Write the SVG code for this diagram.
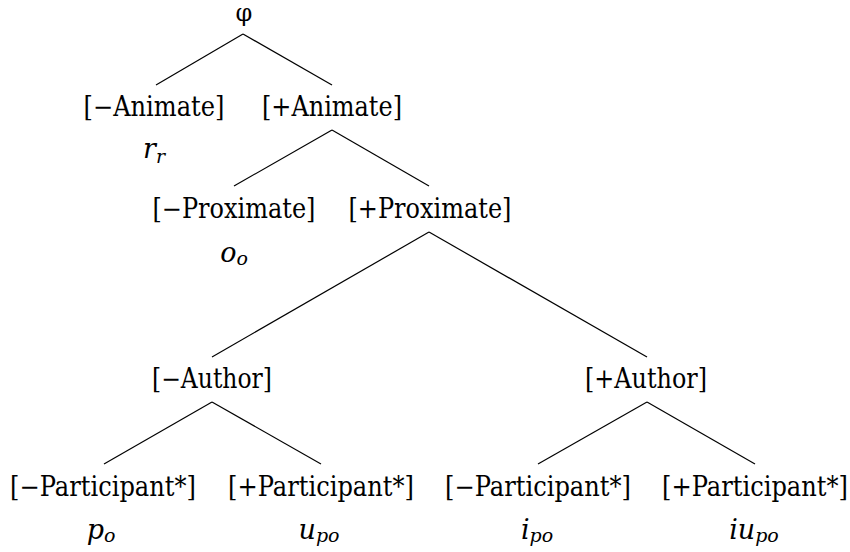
<svg xmlns="http://www.w3.org/2000/svg" width="850" height="552" viewBox="0 0 850 552">
<style>
text{font-family:"DejaVu Serif",serif;fill:#000;text-anchor:middle;font-size:27px}
.lbl{transform:scale(0.85,1)}
.m{font-style:italic;font-size:27px}
.s{font-size:19px}
.edge{stroke:#000;stroke-width:1.2;fill:none}
</style>
<rect width="850" height="552" fill="#fff"/>
<g id="connectors">
<line class="edge" x1="243" y1="34" x2="156" y2="85"/>
<line class="edge" x1="243" y1="34" x2="332" y2="85"/>
<line class="edge" x1="332" y1="130" x2="234" y2="186"/>
<line class="edge" x1="332" y1="130" x2="429" y2="186"/>
<line class="edge" x1="429" y1="232" x2="212" y2="357"/>
<line class="edge" x1="429" y1="232" x2="647" y2="357"/>
<line class="edge" x1="212" y1="402" x2="104" y2="464"/>
<line class="edge" x1="212" y1="402" x2="321" y2="464"/>
<line class="edge" x1="647" y1="402" x2="538" y2="464"/>
<line class="edge" x1="647" y1="402" x2="755" y2="464"/>
</g>
<g id="root"><text x="244" y="21" style="font-size:24px">φ</text></g>
<g id="minus-animate">
<text class="lbl" x="181.18" y="116" textLength="165.88" lengthAdjust="spacingAndGlyphs">[−Animate]</text>
<text class="m" x="154" y="158">r<tspan class="s" dy="5">r</tspan></text>
</g>
<g id="plus-animate"><text class="lbl" x="390.59" y="116" textLength="164.71" lengthAdjust="spacingAndGlyphs">[+Animate]</text></g>
<g id="minus-proximate">
<text class="lbl" x="275.29" y="218" textLength="191.76" lengthAdjust="spacingAndGlyphs">[−Proximate]</text>
<text class="m" x="234" y="262">o<tspan class="s" dy="3">o</tspan></text>
</g>
<g id="plus-proximate"><text class="lbl" x="505.88" y="218" textLength="191.76" lengthAdjust="spacingAndGlyphs">[+Proximate]</text></g>
<g id="minus-author"><text class="lbl" x="249.41" y="388" textLength="141.18" lengthAdjust="spacingAndGlyphs">[−Author]</text></g>
<g id="plus-author"><text class="lbl" x="760" y="388" textLength="143.53" lengthAdjust="spacingAndGlyphs">[+Author]</text></g>
<g id="p1">
<text class="lbl" x="121.18" y="496" textLength="218.82" lengthAdjust="spacingAndGlyphs">[−Participant*]</text>
<text class="m" x="101" y="539">p<tspan class="s" dy="3">o</tspan></text>
</g>
<g id="p2">
<text class="lbl" x="377.65" y="496" textLength="218.82" lengthAdjust="spacingAndGlyphs">[+Participant*]</text>
<text class="m" x="319" y="539">u<tspan class="s" dy="3">po</tspan></text>
</g>
<g id="p3">
<text class="lbl" x="632.94" y="496" textLength="218.82" lengthAdjust="spacingAndGlyphs">[−Participant*]</text>
<text class="m" x="537" y="539">i<tspan class="s" dy="3">po</tspan></text>
</g>
<g id="p4">
<text class="lbl" x="888.24" y="496" textLength="218.82" lengthAdjust="spacingAndGlyphs">[+Participant*]</text>
<text class="m" x="754" y="539">iu<tspan class="s" dy="3">po</tspan></text>
</g>
</svg>
